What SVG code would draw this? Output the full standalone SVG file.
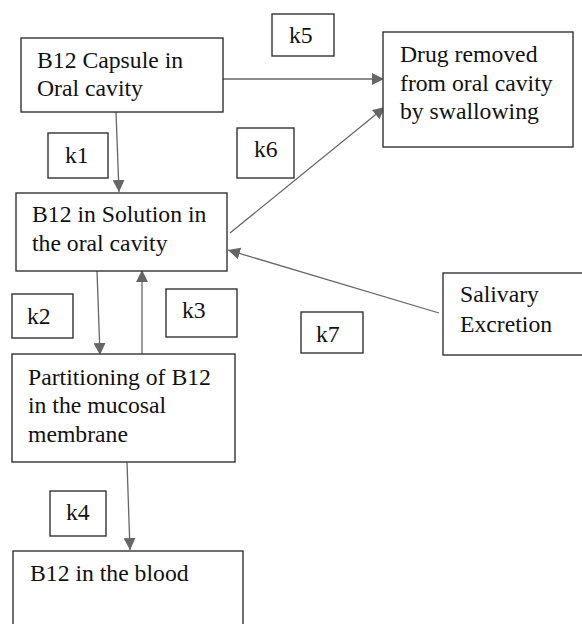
<svg xmlns="http://www.w3.org/2000/svg" width="582" height="624" viewBox="0 0 582 624">
<style>
.box{fill:#fff;stroke:#333;stroke-width:1.4}
.c{stroke:#666;stroke-width:1.3;fill:none;marker-end:url(#ah)}
</style>
<defs>
<marker id="ah" viewBox="0 0 12 12" refX="12" refY="6" markerWidth="12" markerHeight="12" markerUnits="userSpaceOnUse" orient="auto">
<path d="M0,0 L12,6 L0,12 Z" fill="#666"/>
</marker>
</defs>
<rect width="582" height="624" fill="#fff"/>
<g id="connectors">
<line class="c" x1="116" y1="112" x2="119" y2="192"/>
<line class="c" x1="223" y1="79" x2="384" y2="79"/>
<line class="c" x1="230" y1="233" x2="385" y2="107"/>
<line class="c" x1="97" y1="271" x2="100" y2="355"/>
<line class="c" x1="142" y1="355" x2="142" y2="270"/>
<line class="c" x1="439" y1="313" x2="228" y2="250"/>
<line class="c" x1="127" y1="462" x2="130" y2="550"/>
</g>
<g font-family="Liberation Serif, Times New Roman, serif" font-size="23.7" fill="#111">
<g id="capsule">
<rect class="box" x="21" y="38" width="202" height="74"/>
<text x="37" y="68">B12 Capsule in</text>
<text x="37" y="96">Oral cavity</text>
</g>
<g id="drug-removed">
<rect class="box" x="383" y="32" width="190" height="115"/>
<text x="400" y="62">Drug removed</text>
<text x="400" y="91">from oral cavity</text>
<text x="400" y="119">by swallowing</text>
</g>
<g id="solution">
<rect class="box" x="16" y="193" width="211" height="78"/>
<text x="32" y="222">B12 in Solution in</text>
<text x="32" y="251">the oral cavity</text>
</g>
<g id="salivary">
<rect class="box" x="443" y="273" width="150" height="82"/>
<text x="460" y="302">Salivary</text>
<text x="460" y="332">Excretion</text>
</g>
<g id="partitioning">
<rect class="box" x="12" y="354" width="223" height="108"/>
<text x="28" y="385">Partitioning of B12</text>
<text x="28" y="413">in the mucosal</text>
<text x="28" y="442">membrane</text>
</g>
<g id="blood">
<rect class="box" x="13" y="551" width="230" height="90"/>
<text x="30" y="581">B12 in the blood</text>
</g>
<g id="k1"><rect class="box" x="48" y="133" width="60" height="45"/><text x="65" y="163">k1</text></g>
<g id="k5"><rect class="box" x="272" y="14" width="62" height="42"/><text x="289" y="43">k5</text></g>
<g id="k6"><rect class="box" x="237" y="128" width="57" height="50"/><text x="254" y="157">k6</text></g>
<g id="k2"><rect class="box" x="12" y="294" width="61" height="44"/><text x="27" y="324">k2</text></g>
<g id="k3"><rect class="box" x="166" y="289" width="71" height="48"/><text x="182" y="318">k3</text></g>
<g id="k7"><rect class="box" x="301" y="312" width="62" height="41"/><text x="316" y="342">k7</text></g>
<g id="k4"><rect class="box" x="50" y="491" width="56" height="45"/><text x="66" y="520">k4</text></g>
</g>
</svg>
